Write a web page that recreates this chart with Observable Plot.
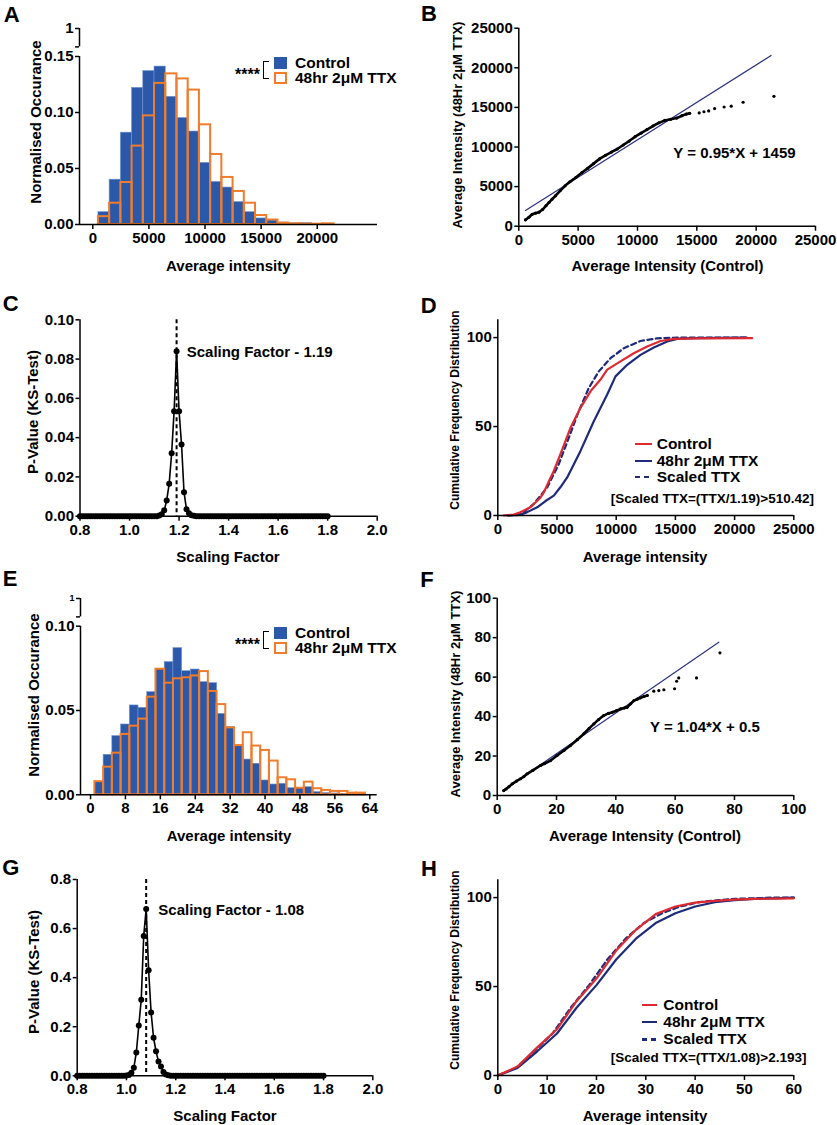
<!DOCTYPE html>
<html><head><meta charset="utf-8">
<script src="https://cdn.jsdelivr.net/npm/d3@7"></script>
<script src="https://cdn.jsdelivr.net/npm/@observablehq/plot@0.6"></script>
<style>
html,body{margin:0;padding:0;background:#fff;}
#fig{position:relative;width:837px;height:1125px;overflow:hidden;font-family:'Liberation Sans',Arial,Helvetica,sans-serif;font-weight:bold;color:#000;}
.t{position:absolute;white-space:nowrap;line-height:1;}
.sw{position:absolute;box-sizing:border-box;}
</style></head><body><div id="fig"></div>
<script>
// ---------------- DATA ----------------
// Panel A: histogram, bins of 1000
const aBins = [1000,2000,3000,4000,5000,6000,7000,8000,9000,10000,11000,12000,13000,14000,15000,16000,17000,18000,19000,20000,21000];
const aControl = [0.011,0.040,0.082,0.122,0.137,0.141,0.114,0.095,0.083,0.055,0.038,0.033,0.020,0.011,0.0054,0.0036,0.0018,0.001,0.0012,0.0006,0.0003];
const aTTX = [0.007,0.019,0.0375,0.070,0.097,0.126,0.1345,0.130,0.120,0.089,0.0625,0.042,0.0295,0.019,0.008,0.004,0.0012,0.0006,0.0003,0.0003,0.0006];
const aXTicks = [0,5000,10000,15000,20000];
const aYTicks = [0,0.05,0.10,0.15];

// Panel B: QQ plot
const bControl = [560,850,1130,1400,1700,2000,2300,2550,2800,3100,3500,3900,4300,4800,5300,5800,6300,6800,7300,7800,8300,8800,9300,9800,10300,10800,11300,11800,12300,12800,13300,13750,14100,14400,15200,15600,16000,16500,17300,17900,18900,21500];
const bTTX = [800,1130,1500,1650,1770,2100,2600,3000,3400,3850,4500,5100,5600,6150,6750,7300,7900,8500,8950,9350,9750,10250,10750,11300,11750,12200,12650,13050,13350,13500,13650,13950,14150,14250,14300,14450,14550,14850,15050,15150,15650,16400];
const bFitX = [560,21260];
const bFitY = [1990,21560];
const bTicks = [0,5000,10000,15000,20000,25000];

// Panels C and G: KS-test p-value vs scaling factor
const scalingFactors = [0.80,0.81,0.82,0.83,0.84,0.85,0.86,0.87,0.88,0.89,
 0.90,0.91,0.92,0.93,0.94,0.95,0.96,0.97,0.98,0.99,
 1.00,1.01,1.02,1.03,1.04,1.05,1.06,1.07,1.08,1.09,
 1.10,1.11,1.12,1.13,1.14,1.15,1.16,1.17,1.18,1.19,
 1.20,1.21,1.22,1.23,1.24,1.25,1.26,1.27,1.28,1.29,
 1.30,1.31,1.32,1.33,1.34,1.35,1.36,1.37,1.38,1.39,
 1.40,1.41,1.42,1.43,1.44,1.45,1.46,1.47,1.48,1.49,
 1.50,1.51,1.52,1.53,1.54,1.55,1.56,1.57,1.58,1.59,
 1.60,1.61,1.62,1.63,1.64,1.65,1.66,1.67,1.68,1.69,
 1.70,1.71,1.72,1.73,1.74,1.75,1.76,1.77,1.78,1.79,
 1.80];
const cPValue = [0,0,0,0,0,0,0,0,0,0,
 0,0,0,0,0,0,0,0,0,0,
 0,0,0,0,0,0,0,0,0,0,
 0,0,0.0003,0.001,0.003,0.008,0.0165,0.032,0.0535,0.084,
 0.0535,0.0365,0.0122,0.0035,0.0015,0.0005,0.0002,0,0,0,
 0,0,0,0,0,0,0,0,0,0,
 0,0,0,0,0,0,0,0,0,0,
 0,0,0,0,0,0,0,0,0,0,
 0,0,0,0,0,0,0,0,0,0,
 0,0,0,0,0,0,0,0,0,0,
 0];
const gPValue = [0,0,0,0,0,0,0,0,0,0,
 0,0,0,0,0,0,0,0,0,0,
 0.001,0.003,0.012,0.033,0.095,0.205,0.31,0.57,0.68,0.43,
 0.258,0.155,0.10,0.058,0.038,0.015,0.005,0.002,0.0005,0,
 0,0,0,0,0,0,0,0,0,0,
 0,0,0,0,0,0,0,0,0,0,
 0,0,0,0,0,0,0,0,0,0,
 0,0,0,0,0,0,0,0,0,0,
 0,0,0,0,0,0,0,0,0,0,
 0,0,0,0,0,0,0,0,0,0,
 0];
const cBest = 1.19, gBest = 1.08;
const sfTicks = [0.8,1.0,1.2,1.4,1.6,1.8,2.0];
const cYTicks = [0,0.02,0.04,0.06,0.08,0.10];
const gYTicks = [0,0.2,0.4,0.6,0.8];

// Panel D: cumulative distributions
const dControlX = [500,1350,1900,2760,3600,3885,4300,4730,5437,6140,6985,7830,8675,9240,10363,11487,12618,13742,14865,17100,21480];
const dControlY = [0,0.5,1.8,4.6,10,13,19,25,37,49.3,60.5,69.8,76.4,82,86.6,91.2,95,98.1,99.3,99.6,99.7];
const dTTXX = [900,1917,2480,3328,4000,4730,5300,5861,6985,8108,9240,9941,10929,12053,13176,14308,15152,16500,21000];
const dTTXY = [0,0.4,1.9,4.6,8,11.2,16,21.4,36.3,53,68,78.2,84.7,90.3,94.4,97.8,99.3,99.7,100];
const dScaledX = [800,1637,2300,3040,4172,5152,5997,6841,7686,8531,9519,10642,12053,13463,15431,21000];
const dScaledY = [0,0.3,2.5,6.5,15.8,28.9,43.7,58.7,71.7,81,88.4,94,98.1,99.6,100,100];
const dXTicks = [0,5000,10000,15000,20000,25000];
const cumTicks = [0,50,100];

// Panel E: histogram, bins of 2
const eBins = [2,4,6,8,10,12,14,16,18,20,22,24,26,28,30,32,34,36,38,40,42,44,46,48,50,52,54,56,58,60,62];
const eControl = [0.0075,0.0237,0.0348,0.0417,0.053,0.0516,0.0609,0.0747,0.0787,0.087,0.0733,0.0743,0.0668,0.0662,0.048,0.0401,0.0292,0.0209,0.0184,0.0085,0.0061,0.0065,0.0039,0.0039,0.0045,0.0016,0.001,0.0008,0.0006,0.0004,0.0002];
const eTTX = [0.0078,0.0164,0.0247,0.0358,0.0407,0.0449,0.0579,0.0745,0.0662,0.0688,0.0694,0.0705,0.0731,0.0613,0.0535,0.0397,0.0292,0.0368,0.0289,0.0263,0.02,0.0101,0.0089,0.0039,0.0075,0.0036,0.0026,0.002,0.002,0.001,0.001];
const eXTicks = [0,8,16,24,32,40,48,56,64];
const eYTicks = [0,0.05,0.10];

// Panel F: QQ plot
const fControl = [2.2,3,4,5.1,6.5,7.9,9,10.1,12,14.6,16,18,20.2,22.5,24.7,27,29.2,31,32.6,34.2,35.9,37.5,38.8,40.2,41.6,42.8,43.8,45,46.1,47.2,48.3,49.5,50.6,52.8,54.5,56.2,59.8,60.5,61.2,67.2,75.1];
const fTTX = [2.5,3.3,4.5,5.9,7.3,8.5,9.6,11,12.7,15.2,16.2,17.7,20.3,22.8,25.3,28.3,31.3,34,36.3,38.5,40.5,41.6,42.2,43,43.9,44.3,44.7,46.5,48.1,48.8,49.5,50.2,50.7,52.9,53.2,53.6,54.1,57.9,59.6,59.6,72.3];
const fFitX = [2.5,74.7];
const fFitY = [3.1,77.7];
const fTicks = [0,20,40,60,80,100];

// Panel H: cumulative distributions
const hX = [0,4,8,12,16,20,24,28,32,36,40,44,48,52,56,60];
const hControl = [0,5,15.8,26,41.9,54.5,70.2,81.9,90.7,95,97.2,98.1,98.9,99.3,99.4,99.6];
const hTTX = [0,4.3,13.6,23.6,38.2,50.8,65.2,76.9,85.7,91.2,95,97.4,98.5,99.3,99.6,100];
const hScaledX = [0,3.7,7.4,11.1,14.8,18.5,22.2,25.9,29.6,33.3,37,40.7,44.4,48.1,51.9,55.6,60];
const hScaledY = [0,4.3,13.6,23.6,38.2,50.8,65.2,76.9,85.7,91.2,95,97.4,98.5,99.3,99.6,100,100];
const hXTicks = [0,10,20,30,40,50,60];

const breakTicks = [0.9, 1];

// ---------------- DRAWING ----------------
const fig = document.getElementById("fig");
const FONT = "'Liberation Sans', Arial, Helvetica, sans-serif";
const BLUE = "#2b58a8", BLUE_EDGE = "#7093d0", ORANGE = "#ef7d2d", RED = "#dc2a30", NAVY = "#1e2b7a", FIT = "#2a3180";

function styleFor(size) {
  return {fontFamily: FONT, fontSize: size + "px", fontWeight: "bold", color: "#000", background: "transparent", overflow: "visible"};
}
function panel(box, frame, opts) {
  const [L, T, W, H] = box, [fl, ft, fr, fb] = frame;
  const svg = Plot.plot({
    width: W, height: H,
    marginLeft: fl - L, marginTop: ft - T, marginRight: L + W - fr, marginBottom: T + H - fb,
    style: styleFor(opts.fontSize || 15),
    x: {label: null, ...opts.x}, y: {label: null, ...opts.y},
    marks: opts.marks
  });
  svg.style.position = "absolute"; svg.style.left = L + "px"; svg.style.top = T + "px";
  fig.appendChild(svg);
}
const axX = (ticks, fmt) => Plot.axisX({ticks, tickFormat: fmt, tickSize: 5, tickPadding: 3, strokeWidth: 1.5, label: null});
const axY = (ticks, fmt) => Plot.axisY({ticks, tickFormat: fmt, tickSize: 4, tickPadding: 2, strokeWidth: 1.5, label: null});
const fInt = d3.format("d"), f1 = d3.format(".1f"), f2 = d3.format(".2f");
const axisLines = (x0, y0) => [Plot.ruleY([y0], {strokeWidth: 1.5}), Plot.ruleX([x0], {strokeWidth: 1.5})];

function breakSegment(axisX, yTop, yBot, size) {
  const svg = Plot.plot({
    width: axisX + 10, height: (yBot - yTop) + 20,
    marginLeft: axisX, marginRight: 9, marginTop: 10, marginBottom: 10,
    style: styleFor(size),
    x: {domain: [0, 1], axis: null}, y: {domain: breakTicks, label: null},
    marks: [
      Plot.axisY({ticks: breakTicks, tickFormat: d => d === 1 ? "1" : "", tickSize: 4, tickPadding: 2, strokeWidth: 1.5, label: null}),
      Plot.ruleX([0], {strokeWidth: 1.5})
    ]
  });
  svg.style.position = "absolute"; svg.style.left = "0px"; svg.style.top = (yTop - 10) + "px";
  fig.appendChild(svg);
}

function histRows(bins, width, ctrl, ttx) {
  return bins.map((c, i) => ({x1: c - width / 2, x2: c + width / 2, ctrl: ctrl[i], ttx: ttx[i]}));
}
const zip = (xs, ys) => xs.map((x, i) => ({x, y: ys[i]}));

// Panel A
const aXDomain = [-1185, 25370];
panel([0, 0, 410, 250], [79, 56, 377, 224], {
  x: {domain: aXDomain}, y: {domain: [0, 0.15]},
  marks: [
    Plot.rect(histRows(aBins, 1000, aControl, aTTX), {x1: "x1", x2: "x2", y1: () => 0, y2: "ctrl", fill: BLUE, stroke: BLUE_EDGE, strokeWidth: 0.6}),
    Plot.rect(histRows(aBins, 1000, aControl, aTTX), {x1: "x1", x2: "x2", y1: () => 0, y2: "ttx", fill: "none", stroke: ORANGE, strokeWidth: 2}),
    ...axisLines(aXDomain[0], 0),
    axX(aXTicks, fInt), axY(aYTicks, f2)
  ]
});
breakSegment(79, 28.3, 46.7, 15);

// Panel B
panel([418, 10, 419, 240], [518.3, 27.7, 815, 225.7], {
  x: {domain: [0, 25000]}, y: {domain: [0, 25000]},
  marks: [
    Plot.line(zip(bFitX, bFitY), {x: "x", y: "y", stroke: FIT, strokeWidth: 1.2}),
    Plot.line(zip(bControl, bTTX).filter(d => d.x <= 14400), {x: "x", y: "y", stroke: "#000", strokeWidth: 2.6}),
    Plot.dot(zip(bControl, bTTX), {x: "x", y: "y", r: 1.6, fill: "#000"}),
    ...axisLines(0, 0),
    axX(bTicks, fInt), axY(bTicks, fInt)
  ]
});

// Panel C
panel([0, 300, 410, 240], [79.5, 319.3, 376.7, 515.7], {
  x: {domain: [0.8, 2.0]}, y: {domain: [0, 0.10]},
  marks: [
    Plot.line(zip(scalingFactors, cPValue), {x: "x", y: "y", stroke: "#000", strokeWidth: 1.6}),
    Plot.ruleX([cBest], {stroke: "#000", strokeWidth: 2, strokeDasharray: "4,3"}),
    Plot.dot(zip(scalingFactors, cPValue), {x: "x", y: "y", r: 3, fill: "#000"}),
    ...axisLines(0.8, 0),
    axX(sfTicks, f1), axY(cYTicks, f2)
  ]
});

// Panel D
panel([418, 300, 419, 240], [497.3, 319.3, 793.3, 515], {
  x: {domain: [0, 25000]}, y: {domain: [0, 110]},
  marks: [
    Plot.line(zip(dTTXX, dTTXY), {x: "x", y: "y", stroke: NAVY, strokeWidth: 2.2}),
    Plot.line(zip(dScaledX, dScaledY), {x: "x", y: "y", stroke: NAVY, strokeWidth: 2.2, strokeDasharray: "5,3.5"}),
    Plot.line(zip(dControlX, dControlY), {x: "x", y: "y", stroke: RED, strokeWidth: 2.2}),
    ...axisLines(0, 0),
    axX(dXTicks, fInt), axY(cumTicks, fInt)
  ]
});

// Panel E
const eXDomain = [-2.3, 65.7];
panel([0, 570, 410, 250], [80, 625.7, 376.7, 794.3], {
  x: {domain: eXDomain}, y: {domain: [0, 0.10]},
  marks: [
    Plot.rect(histRows(eBins, 2, eControl, eTTX), {x1: "x1", x2: "x2", y1: () => 0, y2: "ctrl", fill: BLUE, stroke: BLUE_EDGE, strokeWidth: 0.6}),
    Plot.rect(histRows(eBins, 2, eControl, eTTX), {x1: "x1", x2: "x2", y1: () => 0, y2: "ttx", fill: "none", stroke: ORANGE, strokeWidth: 2}),
    ...axisLines(eXDomain[0], 0),
    axX(eXTicks, fInt), axY(eYTicks, f2)
  ]
});
breakSegment(80, 598.3, 616.7, 9);

// Panel F
panel([418, 570, 419, 250], [496.7, 597.7, 793.3, 795], {
  x: {domain: [0, 100]}, y: {domain: [0, 100]},
  marks: [
    Plot.line(zip(fFitX, fFitY), {x: "x", y: "y", stroke: FIT, strokeWidth: 1.2}),
    Plot.line(zip(fControl, fTTX).filter(d => d.x <= 50.6), {x: "x", y: "y", stroke: "#000", strokeWidth: 2.6}),
    Plot.dot(zip(fControl, fTTX), {x: "x", y: "y", r: 1.6, fill: "#000"}),
    ...axisLines(0, 0),
    axX(fTicks, fInt), axY(fTicks, fInt)
  ]
});

// Panel G
panel([0, 860, 410, 240], [76.7, 879, 372.3, 1075.3], {
  x: {domain: [0.8, 2.0]}, y: {domain: [0, 0.8]},
  marks: [
    Plot.line(zip(scalingFactors, gPValue), {x: "x", y: "y", stroke: "#000", strokeWidth: 1.6}),
    Plot.ruleX([gBest], {stroke: "#000", strokeWidth: 2, strokeDasharray: "4,3"}),
    Plot.dot(zip(scalingFactors, gPValue), {x: "x", y: "y", r: 3, fill: "#000"}),
    ...axisLines(0.8, 0),
    axX(sfTicks, f1), axY(gYTicks, f1)
  ]
});

// Panel H
panel([418, 860, 419, 240], [497.3, 879.3, 793.3, 1075], {
  x: {domain: [0, 60]}, y: {domain: [0, 110]},
  marks: [
    Plot.line(zip(hX, hTTX), {x: "x", y: "y", stroke: NAVY, strokeWidth: 2.2}),
    Plot.line(zip(hScaledX, hScaledY), {x: "x", y: "y", stroke: NAVY, strokeWidth: 2.2, strokeDasharray: "5,3.5"}),
    Plot.line(zip(hX, hControl), {x: "x", y: "y", stroke: RED, strokeWidth: 2.2}),
    ...axisLines(0, 0),
    axX(hXTicks, fInt), axY(cumTicks, fInt)
  ]
});

// ---------------- TEXT & LEGENDS ----------------
function txt(s, x, y, size, anchor = "start", rotate = false) {
  const d = document.createElement("div");
  d.className = "t"; d.textContent = s;
  d.style.fontSize = size + "px"; d.style.left = x + "px"; d.style.top = y + "px";
  const tx = anchor === "middle" ? "-50%" : anchor === "end" ? "-100%" : "0";
  d.style.transform = `translate(${tx},-50%)` + (rotate ? " rotate(-90deg)" : "");
  fig.appendChild(d);
}
function box(x, y, w, h, css) {
  const d = document.createElement("div");
  d.className = "sw";
  Object.assign(d.style, {left: x + "px", top: y + "px", width: w + "px", height: h + "px"}, css);
  fig.appendChild(d);
}

// panel letters
[["A", 11.7, 14.5], ["B", 429, 14.2], ["C", 10.8, 304.2], ["D", 428.7, 305.8],
 ["E", 10, 579], ["F", 427, 580], ["G", 10.8, 867.5], ["H", 429, 869]]
  .forEach(([s, x, y]) => txt(s, x, y, 22, "middle"));

// y titles
txt("Normalised Occurance", 35, 121.7, 15, "middle", true);
txt("Average Intensity (48Hr 2μM TTX)", 457, 125, 13, "middle", true);
txt("P-Value (KS-Test)", 32.3, 411.7, 15, "middle", true);
txt("Cumulative Frequency Distribution", 455, 410, 12, "middle", true);
txt("Normalised Occurance", 33, 695, 15, "middle", true);
txt("Average Intensity (48Hr 2μM TTX)", 455, 694, 13, "middle", true);
txt("P-Value (KS-Test)", 33, 971.7, 15, "middle", true);
txt("Cumulative Frequency Distribution", 455, 970, 12, "middle", true);

// x titles
txt("Average intensity", 228.3, 265, 15, "middle");
txt("Average Intensity (Control)", 667.5, 265, 15, "middle");
txt("Scaling Factor", 228, 556, 15, "middle");
txt("Average intensity", 645, 556, 15, "middle");
txt("Average intensity", 229, 835, 15, "middle");
txt("Average Intensity (Control)", 645, 835, 15, "middle");
txt("Scaling Factor", 225, 1115, 15, "middle");
txt("Average intensity", 645, 1115, 15, "middle");

// annotations
txt("Y = 0.95*X + 1459", 673.3, 152, 15);
txt("Y = 1.04*X + 0.5", 650, 725.7, 15);
txt("Scaling Factor - 1.19", 186.7, 350.7, 15);
txt("Scaling Factor - 1.08", 158.3, 909.3, 15);

// histogram legends (A and E)
function histLegend(y0) {
  box(274, y0, 13, 12, {background: BLUE});
  box(274, y0 + 15.5, 13, 12, {background: "#fff", border: "2px solid " + ORANGE});
  txt("Control", 295, y0 + 6, 15.5);
  txt("48hr 2μM TTX", 295, y0 + 21.6, 15.5);
  txt("****", 235, y0 + 18.3, 16);
  box(263.3, y0 + 4.3, 5.5, 18, {borderLeft: "1.5px solid #000", borderTop: "1.5px solid #000", borderBottom: "1.5px solid #000"});
}
histLegend(56.7);
histLegend(626.7);

// cumulative legends (D and H)
function cumLegend(xl, xr, ys, xt, bracket, by) {
  const dash = {background: `repeating-linear-gradient(to right, ${NAVY} 0 5px, transparent 5px 9px)`};
  box(xl, ys[0] - 1.1, xr - xl, 2.4, {background: RED});
  box(xl, ys[1] - 1.1, xr - xl, 2.4, {background: NAVY});
  box(xl, ys[2] - 1.1, xr - xl, 2.4, dash);
  txt("Control", xt, ys[0], 15.5);
  txt("48hr 2μM TTX", xt, ys[1], 15.5);
  txt("Scaled TTX", xt, ys[2], 15.5);
  txt(bracket, 610.7, by, 13.5);
}
cumLegend(635, 652, [444, 460.7, 476.7], 656.7, "[Scaled TTX=(TTX/1.19)>510.42]", 499.3);
cumLegend(641.7, 656.7, [1005, 1021.7, 1039.3], 663.3, "[Scaled TTX=(TTX/1.08)>2.193]", 1058.3);
</script></body></html>
